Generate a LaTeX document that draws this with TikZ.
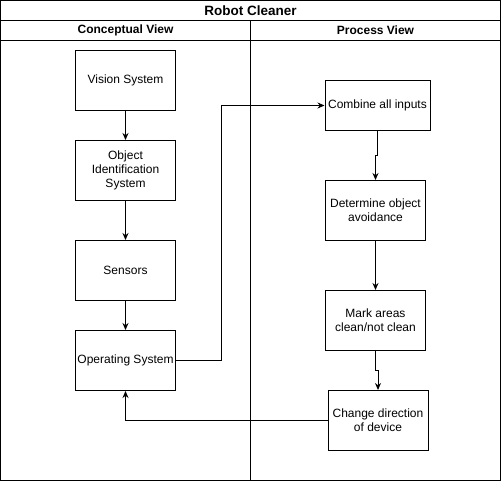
\documentclass[tikz,border=0pt]{standalone}
\usepackage{fontspec}
\setmainfont{Liberation Sans}
\usetikzlibrary{arrows.meta}
\begin{document}
\begin{tikzpicture}[x=1pt,y=-1pt,line width=1pt,
  box/.style={draw,minimum width=100pt,minimum height=60pt,inner sep=1pt,align=center,font=\fontsize{12}{14}\selectfont},
  boxs/.style={box,minimum height=50pt},
  hdr/.style={font=\bfseries\fontsize{12}{14}\selectfont},
  conn/.style={draw,-{Stealth[length=7pt,width=6pt]}}]
\useasboundingbox (0,0) rectangle (501,481);
\draw (0.5,0.5) rectangle (500.5,480.5);
\draw (0.5,20.5) -- (500.5,20.5);
\draw (0.5,40.5) -- (500.5,40.5);
\draw (250.5,20.5) -- (250.5,480.5);
\node[hdr,font=\bfseries\fontsize{13.5}{15}\selectfont] (title) at (250.5,10.5) {Robot Cleaner};
\node[hdr] (lh) at (125.5,30.5) {Conceptual View};
\node[hdr] (rh) at (375.5,30.5) {Process View};
\node[box] (vis) at (125.5,80.5) {Vision System};
\node[box] (oid) at (125.5,170.5) {Object\\Identification\\System};
\node[box] (sen) at (125.5,270.5) {Sensors};
\node[box] (os) at (125.5,360.5) {Operating System};
\node[boxs,minimum width=105pt] (comb) at (377.5,105.5) {Combine all inputs};
\node[box] (det) at (375.5,210.5) {Determine object\\avoidance};
\node[box] (mark) at (375.5,320.5) {Mark areas\\clean/not clean};
\node[box] (chg) at (378,420.5) {Change direction\\of device};
\coordinate (j1) at (221.5,360.5);
\coordinate (j2) at (221.5,105.5);
\coordinate (k1) at (377.5,155.5);
\coordinate (k2) at (375.5,155.5);
\coordinate (m1) at (375.5,370.5);
\coordinate (m2) at (378,370.5);
\coordinate (n1) at (125.5,420.5);
\path[conn] (vis) -- (oid);
\path[conn] (oid) -- (sen);
\path[conn] (sen) -- (os);
\path[conn] (os.east) -- (j1) -- (j2) -- (comb.west);
\path[conn] (comb.south) -- (k1) -- (k2) -- (det.north);
\path[conn] (det) -- (mark);
\path[conn] (mark.south) -- (m1) -- (m2) -- (chg.north);
\path[conn] (chg.west) -- (n1) -- (os.south);
\end{tikzpicture}
\end{document}
